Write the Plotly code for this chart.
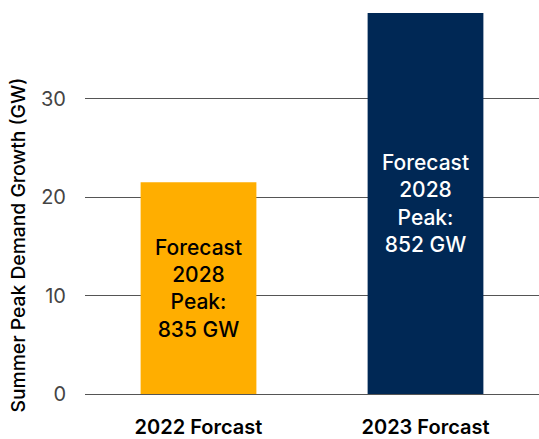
import plotly.graph_objects as go

categories = ["2022 Forcast", "2023 Forcast"]
values = [21.5, 38.7]
bar_labels = ["Forecast<br>2028<br>Peak:<br>835 GW", "Forecast<br>2028<br>Peak:<br>852 GW"]
bar_colors = ["#FFAE00", "#002855"]
text_colors = ["#000000", "#FFFFFF"]
y_ticks = [0, 10, 20, 30]
y_title = "Summer Peak Demand Growth (GW)"

fig = go.Figure(go.Bar(
    x=categories,
    y=values,
    text=bar_labels,
    textposition="inside",
    insidetextanchor="middle",
    textangle=0,
    marker=dict(color=bar_colors, line=dict(width=0)),
    textfont=dict(family="Inter", size=21, color=text_colors, weight=500),
    hoverinfo="skip",
))

fig.update_layout(
    width=539, height=439,
    margin=dict(l=85, r=0, t=13, b=43),
    plot_bgcolor="white", paper_bgcolor="white",
    bargap=0.49,
    showlegend=False,
    font=dict(family="Inter", color="#000000"),
    uniformtext=dict(minsize=8, mode="show"),
)
fig.update_xaxes(
    showgrid=False, zeroline=False, showline=False,
    tickfont=dict(family="Inter", size=20, color="#000000", weight=600),
    ticks="", ticklabelstandoff=19,
)
fig.update_yaxes(
    range=[0, 38.7],
    tickvals=y_ticks,
    showgrid=True, gridcolor="#555555", gridwidth=1,
    zeroline=True, zerolinecolor="#555555", zerolinewidth=1,
    showline=False,
    tickfont=dict(family="Inter", size=20, color="#444444"),
    ticks="", ticklabelstandoff=18,
)
fig.add_annotation(
    text=y_title, textangle=-90,
    xref="paper", yref="paper", x=-0.148, y=0.392,
    xanchor="center", yanchor="middle", showarrow=False,
    font=dict(family="Inter", size=19.3, color="#000000", weight=500),
)

fig.write_html(
    "out.html",
    config={"displayModeBar": False},
    post_script="document.body.style.margin='0';document.body.style.overflow='hidden';document.documentElement.style.overflow='hidden';",
)
